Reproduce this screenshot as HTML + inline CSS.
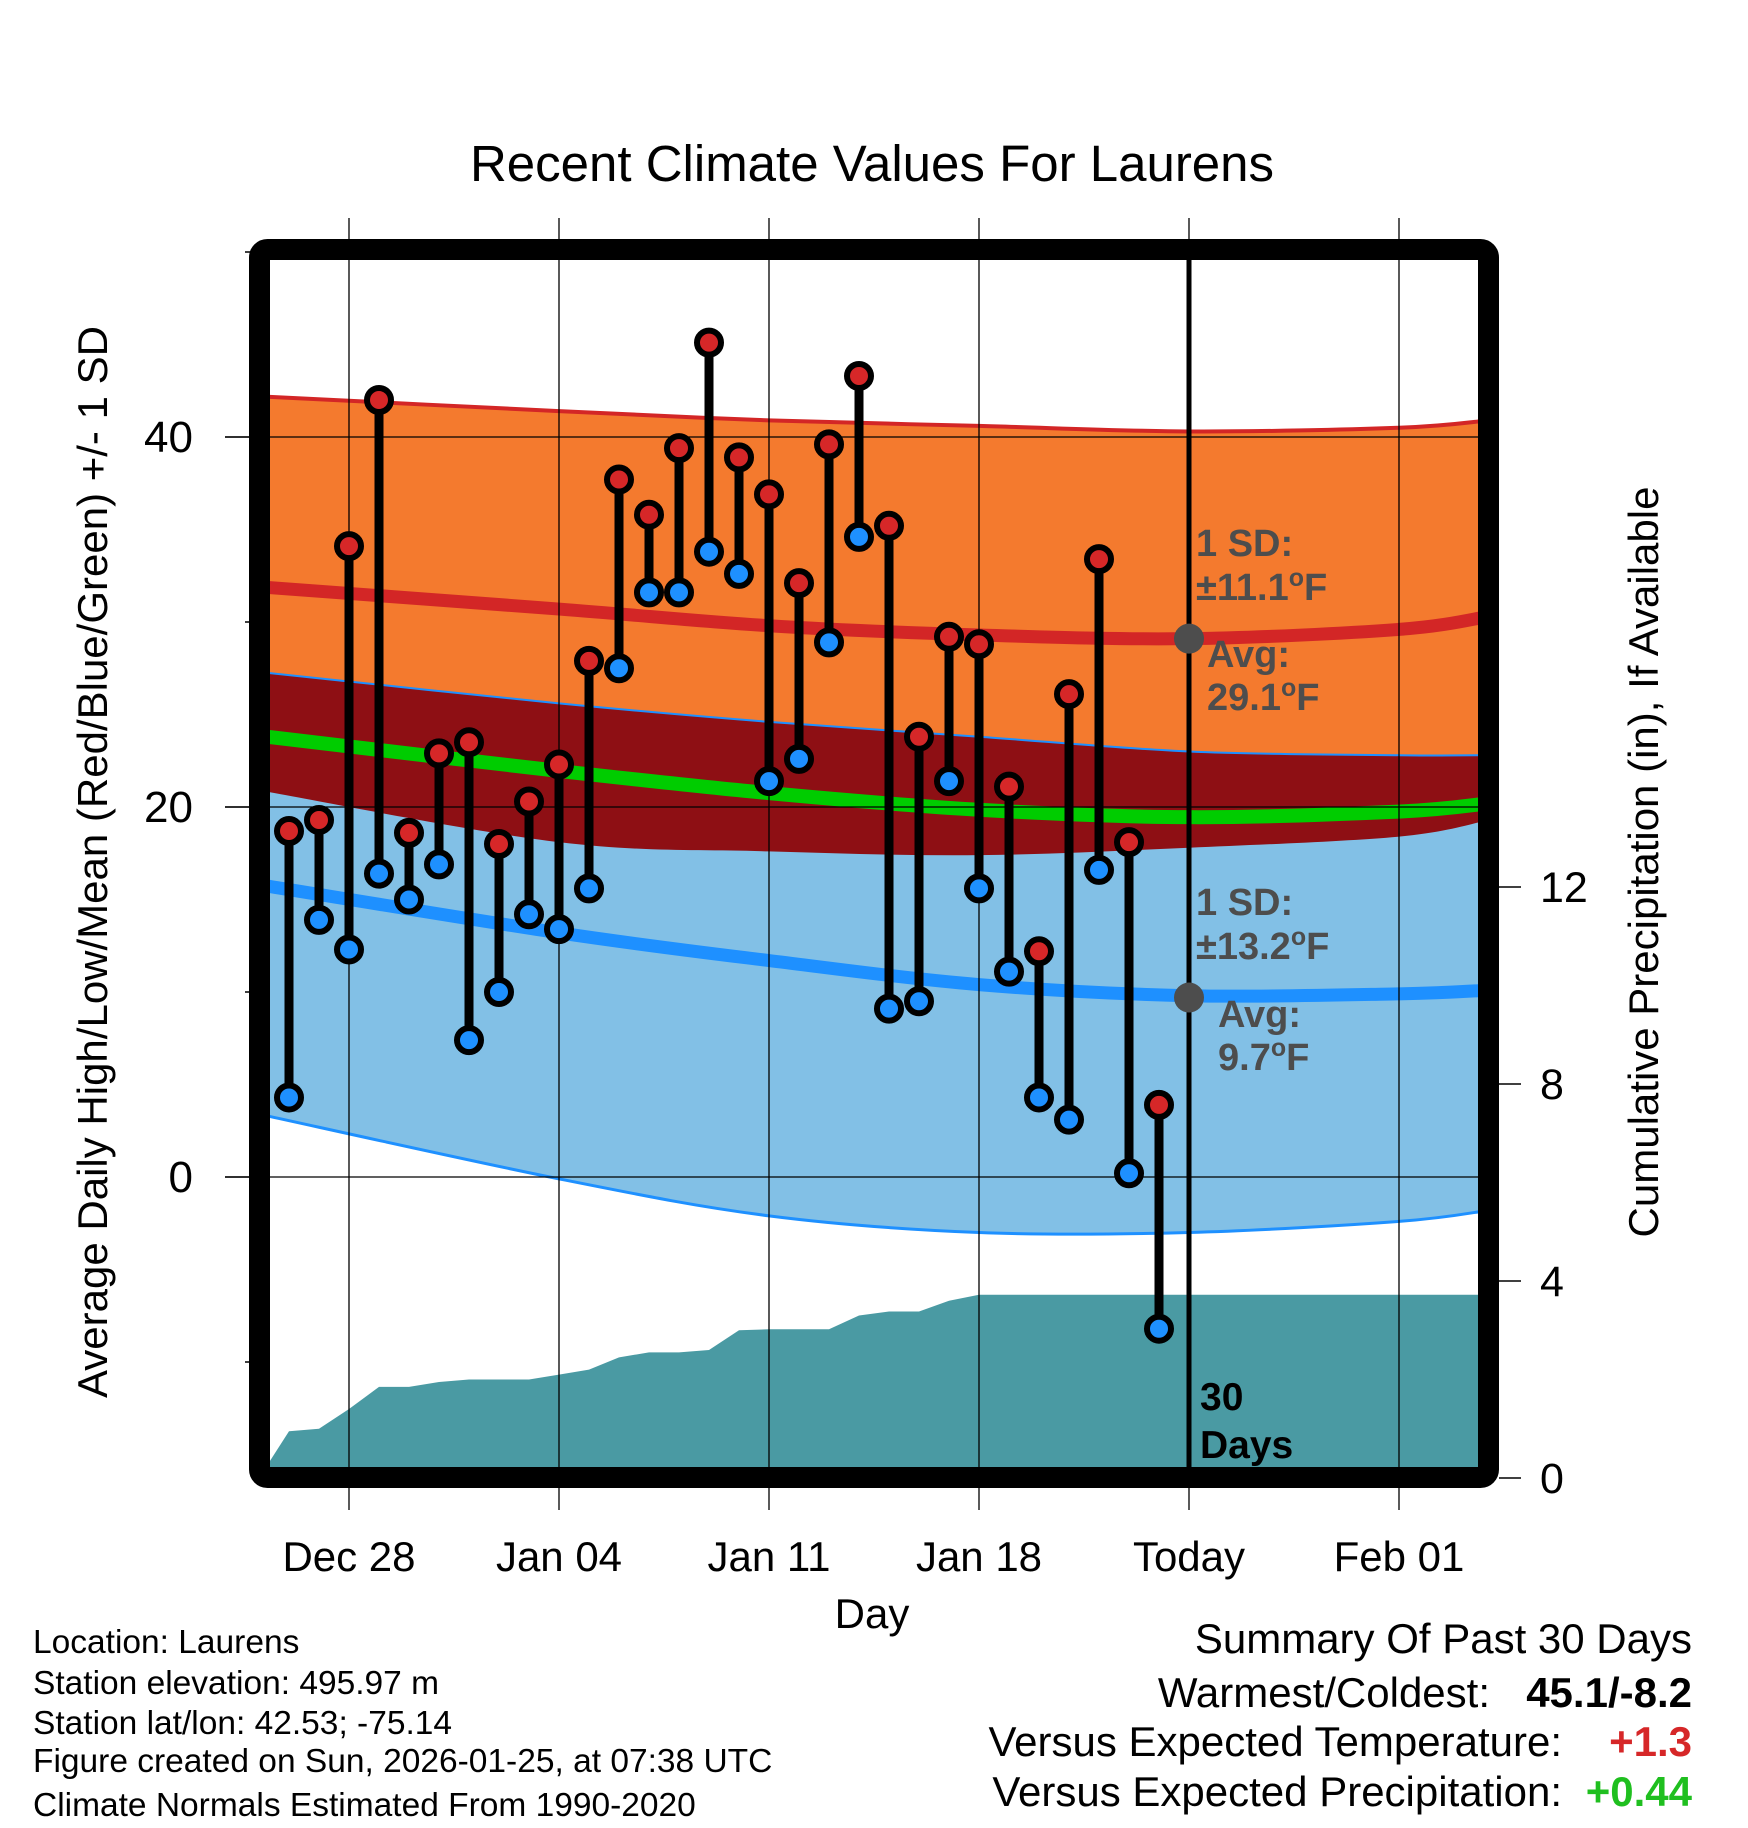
<!DOCTYPE html>
<html><head><meta charset="utf-8"><style>
html,body{margin:0;padding:0;background:#fff;}
svg{display:block;font-family:"Liberation Sans",Arial,sans-serif;}
</style></head><body>
<svg id="chart" width="1748" height="1828" viewBox="0 0 1748 1828" xmlns="http://www.w3.org/2000/svg">
<defs><clipPath id="plotclip"><rect x="270" y="260" width="1208" height="1208"/></clipPath></defs>
<text x="872" y="181" font-size="51" text-anchor="middle">Recent Climate Values For Laurens</text>
<g id="bands" clip-path="url(#plotclip)"></g>
<g id="grid"></g>
<g id="marks"></g>
<rect x="259.5" y="249.5" width="1229" height="1228" rx="8" fill="none" stroke="#000" stroke-width="21"/>
<g id="axes"></g>
<g fill="#4d4d4d" font-weight="bold" font-size="38">
<text x="1196" y="556">1 SD:</text>
<text x="1196" y="600">±11.1<tspan font-size="25" dy="-14">o</tspan><tspan dy="14">F</tspan></text>
<text x="1207" y="667">Avg:</text>
<text x="1207" y="710">29.1<tspan font-size="25" dy="-14">o</tspan><tspan dy="14">F</tspan></text>
<text x="1196" y="915">1 SD:</text>
<text x="1196" y="959">±13.2<tspan font-size="25" dy="-14">o</tspan><tspan dy="14">F</tspan></text>
<text x="1218" y="1027">Avg:</text>
<text x="1218" y="1070">9.7<tspan font-size="25" dy="-14">o</tspan><tspan dy="14">F</tspan></text>
</g>
<g fill="#000" font-weight="bold" font-size="39">
<text x="1200" y="1410">30</text><text x="1200" y="1458">Days</text>
</g>
<text x="872" y="1628" font-size="42" text-anchor="middle">Day</text>
<text transform="translate(107,862) rotate(-90)" font-size="42" text-anchor="middle">Average Daily High/Low/Mean (Red/Blue/Green) +/- 1 SD</text>
<text transform="translate(1658,862) rotate(-90)" font-size="42" text-anchor="middle">Cumulative Precipitation (in), If Available</text>
<g font-size="33.5">
<text x="33" y="1653">Location: Laurens</text>
<text x="33" y="1694">Station elevation: 495.97 m</text>
<text x="33" y="1734">Station lat/lon: 42.53; -75.14</text>
<text x="33" y="1772">Figure created on Sun, 2026-01-25, at 07:38 UTC</text>
<text x="33" y="1816">Climate Normals Estimated From 1990-2020</text>
</g>
<g font-size="42" text-anchor="end">
<text x="1692" y="1653">Summary Of Past 30 Days</text>
<text x="1490" y="1707">Warmest/Coldest:</text>
<text x="1692" y="1707" font-weight="bold">45.1/-8.2</text>
<text x="1562" y="1756">Versus Expected Temperature:</text>
<text x="1692" y="1756" font-weight="bold" fill="#d62728">+1.3</text>
<text x="1562" y="1806">Versus Expected Precipitation:</text>
<text x="1692" y="1806" font-weight="bold" fill="#1fbf1f">+0.44</text>
</g>
</svg>
<script>
// Daily observations (Dec 26 .. Jan 24), day index relative to Dec 28
const obsDays = [-2,-1,0,1,2,3,4,5,6,7,8,9,10,11,12,13,14,15,16,17,18,19,20,21,22,23,24,25,26,27];
const highs = [18.7,19.3,34.1,42.0,18.6,22.9,23.5,18.0,20.3,22.3,27.9,37.7,35.8,39.4,45.1,38.9,36.9,32.1,39.6,43.3,35.2,23.8,29.2,28.8,21.1,12.2,26.1,33.4,18.1,3.9];
const lows = [4.3,13.9,12.3,16.4,15.0,16.9,7.4,10.0,14.2,13.4,15.6,27.5,31.6,31.6,33.8,32.6,21.4,22.6,28.9,34.6,9.1,9.5,21.4,15.6,11.1,4.3,3.1,16.6,0.2,-8.2];
// Cumulative precipitation (in), Dec 25 .. Jan 24
const precipDays = [-3,-2,-1,0,1,2,3,4,5,6,7,8,9,10,11,12,13,14,15,16,17,18,19,20,21,22,23,24,25,26,27];
const precip = [0,0.95,1.0,1.4,1.85,1.85,1.95,2.0,2.0,2.0,2.1,2.2,2.45,2.55,2.55,2.6,3.0,3.02,3.02,3.02,3.3,3.38,3.38,3.6,3.72,3.72,3.72,3.72,3.72,3.72,3.72];
// Climate normals at knot days
const normDays = [-3,7,14,21,28,35,38];
const highAvg = [31.9,30.7,29.8,29.3,29.1,29.6,30.3];
const highUpper = [42.2,41.4,40.9,40.6,40.3,40.5,40.9];
const highLower = [20.9,18.1,17.6,17.4,17.8,18.4,19.3];
const lowAvg = [15.8,13.2,11.7,10.4,9.8,9.9,10.1];
const lowUpper = [27.3,25.6,24.6,23.8,23.0,22.8,22.8];
const lowLower = [3.4,-0.1,-2.1,-3.0,-3.0,-2.4,-1.8];
const xTickDays = [0,7,14,21,28,35];
const xTickLabels = ["Dec 28","Jan 04","Jan 11","Jan 18","Today","Feb 01"];
const yTicks = [-10,0,10,20,30,40,50];
const yLabels = [0,20,40];
const pTicks = [0,4,8,12];

const NS = "http://www.w3.org/2000/svg";
const X = d => 349 + 30*d;
const Y = t => 1177 - 18.5*t;
const P = p => 1478 - 49.25*p;
function mk(tag, attrs, parent){const e=document.createElementNS(NS,tag);for(const k in attrs)e.setAttribute(k,attrs[k]);parent.appendChild(e);return e;}
function pts(days, vals){return days.map((d,i)=>[X(d),Y(vals[i])]);}
function smooth(p){let s="";for(let i=0;i<p.length-1;i++){const p0=p[i-1]||p[i],p1=p[i],p2=p[i+1],p3=p[i+2]||p2;
 const c1=[p1[0]+(p2[0]-p0[0])/6,p1[1]+(p2[1]-p0[1])/6],c2=[p2[0]-(p3[0]-p1[0])/6,p2[1]-(p3[1]-p1[1])/6];
 s+=(i===0?"M"+p1[0]+","+p1[1]:"")+" C"+c1+" "+c2+" "+p2;}return s;}
function band(up, lo){const a=pts(normDays,up), b=pts(normDays,lo).reverse();
 return smooth(a)+" L"+b[0]+smooth(b).replace(/^M[^ ]+/,"")+" Z";}

const bands=document.getElementById('bands');
let pp=[[X(precipDays[0]),1478]];
precipDays.forEach((d,i)=>pp.push([X(d),P(precip[i])]));
pp.push([1490,P(precip[precip.length-1])]);pp.push([1490,1478]);
let el=mk('polygon',{points:pp.map(p=>p.join(',')).join(' '),fill:'#4a9aa3'},bands);


el=mk('path',{d:band(highUpper,highLower),fill:'#f47a2e'},bands);


el=mk('path',{d:band(lowUpper,lowLower),fill:'#82c0e6'},bands);


el=mk('path',{d:band(lowUpper,highLower),fill:'#8e0f14'},bands);


el=mk('path',{d:smooth(pts(normDays,highUpper)),fill:'none',stroke:'#d32626','stroke-width':4},bands);


el=mk('path',{d:smooth(pts(normDays,lowUpper)),fill:'none',stroke:'#1e90ff','stroke-width':2},bands);


el=mk('path',{d:smooth(pts(normDays,lowLower)),fill:'none',stroke:'#1e90ff','stroke-width':3},bands);


el=mk('path',{d:smooth(pts(normDays,highAvg)),fill:'none',stroke:'#d32626','stroke-width':13},bands);


el=mk('path',{d:smooth(pts(normDays,lowAvg)),fill:'none',stroke:'#1e90ff','stroke-width':13},bands);


el=mk('path',{d:smooth(pts(normDays,highAvg.map((h,i)=>(h+lowAvg[i])/2))),fill:'none',stroke:'#00cc00','stroke-width':14},bands);



const grid=document.getElementById('grid');
xTickDays.forEach(d=>{const g=mk('line',{x1:X(d),x2:X(d),y1:218,y2:1510,stroke:'#000','stroke-width':1.3},grid);
 
 });
yLabels.forEach(t=>{const g=mk('line',{x1:225,x2:1478,y1:Y(t),y2:Y(t),stroke:'#000','stroke-width':1.3},grid);
 
 });

const marks=document.getElementById('marks');
el=mk('line',{x1:X(28),x2:X(28),y1:260,y2:1468,stroke:'#000','stroke-width':5},marks);


el=mk('circle',{cx:X(28),cy:Y(29.1),r:15,fill:'#4d4d4d'},marks);


el=mk('circle',{cx:X(28),cy:Y(9.7),r:15,fill:'#4d4d4d'},marks);



obsDays.forEach((d,i)=>{
 const s=mk('line',{x1:X(d),x2:X(d),y1:Y(highs[i]),y2:Y(lows[i]),stroke:'#000','stroke-width':9},marks);
 
 
});
obsDays.forEach((d,i)=>{
 const h=mk('circle',{cx:X(d),cy:Y(highs[i]),r:12,fill:'#d62728',stroke:'#000','stroke-width':6},marks);
 
 
 const l=mk('circle',{cx:X(d),cy:Y(lows[i]),r:12,fill:'#1e90ff',stroke:'#000','stroke-width':6},marks);
 
 
});

const axes=document.getElementById('axes');
yTicks.forEach(t=>{const major=yLabels.includes(t);
 const tk=mk('line',{x1:major?225:245,x2:252,y1:Y(t),y2:Y(t),stroke:'#000','stroke-width':1.5},axes);
 
 });
yLabels.forEach(t=>{const tx=mk('text',{x:193,y:Y(t)+15,'font-size':44,'text-anchor':'end'},axes);tx.textContent=t;
 
 });
pTicks.forEach(p=>{const tk=mk('line',{x1:1499,x2:1521,y1:P(p),y2:P(p),stroke:'#000','stroke-width':1.5},axes);
 
 
 const tx=mk('text',{x:1540,y:P(p)+15,'font-size':43},axes);tx.textContent=p;
 
 });
xTickDays.forEach((d,i)=>{const tx=mk('text',{x:X(d),y:1571,'font-size':42,'text-anchor':'middle'},axes);tx.textContent=xTickLabels[i];
 
 });
</script>
</body></html>
